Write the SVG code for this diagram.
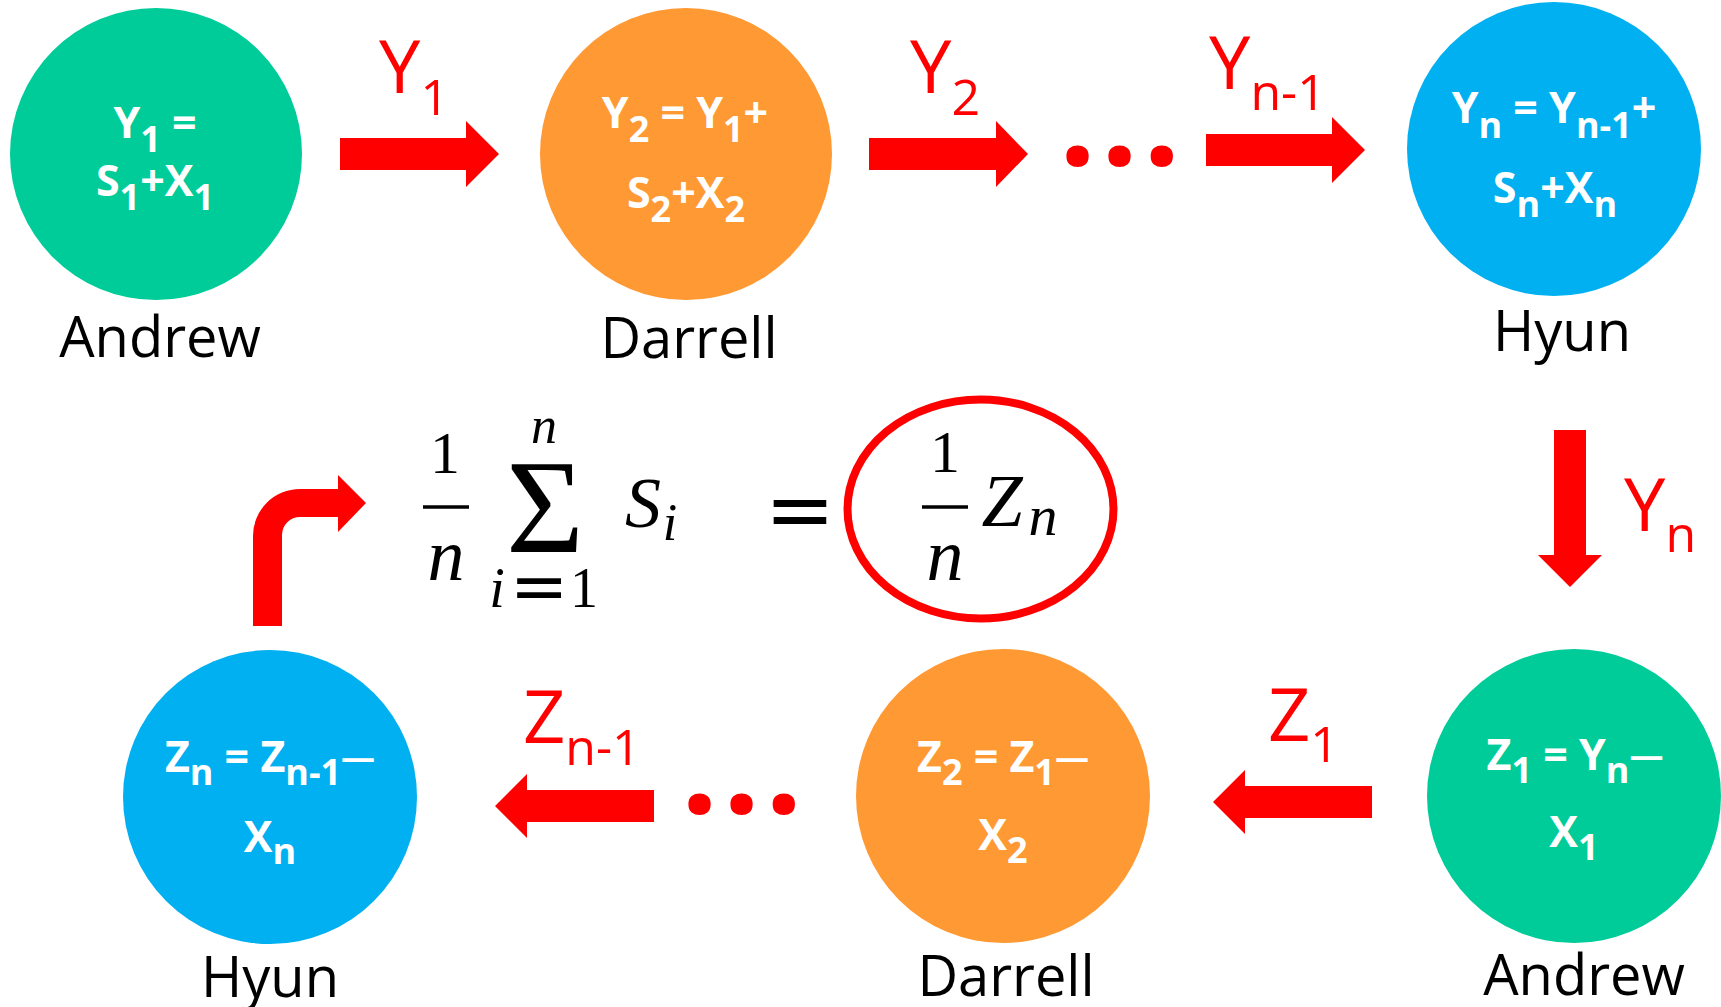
<svg xmlns="http://www.w3.org/2000/svg" width="1721" height="1007" viewBox="0 0 1721 1007">
<style>
.g{fill:#00CC99}.o{fill:#FF9933}.b{fill:#00B0F0}
.nt{font-family:"Open Sans","Liberation Sans",sans-serif;font-weight:bold;font-size:43px;fill:#fff;text-anchor:middle}
.lbl{font-family:"Open Sans","Liberation Sans",sans-serif;font-size:56px;fill:#000;text-anchor:middle}
.el{font-family:"Open Sans","Liberation Sans",sans-serif;font-size:74px;fill:#f00}
.dots{font-family:"Open Sans","Liberation Sans",sans-serif;font-weight:bold;font-size:130px;letter-spacing:5px;fill:#f00}
.arr{fill:#f00}
.m{font-family:"Liberation Serif",serif;fill:#000;text-anchor:middle}
.mi{font-family:"Liberation Serif",serif;font-style:italic;fill:#000;text-anchor:middle}
</style>

<g id="connectors">
  <polygon class="arr" points="340,138 466,138 466,121 499,154 466,187 466,170 340,170"/>
  <polygon class="arr" points="869,138 996,138 996,121 1028,154 996,187 996,170 869,170"/>
  <polygon class="arr" points="1206,134 1332,134 1332,117 1365,150 1332,183 1332,166 1206,166"/>
  <polygon class="arr" points="1554,430 1586,430 1586,555 1602,555 1570,587 1538,555 1554,555"/>
  <polygon class="arr" points="1372,786 1245,786 1245,770 1213,802 1245,834 1245,818 1372,818"/>
  <polygon class="arr" points="654,790 527,790 527,774 495,806 527,838 527,822 654,822"/>
  <path class="arr" d="M253,626 L253,536 A47,47 0 0 1 300,489 L338,489 L338,475 L366,503 L338,532 L338,517 L300,517 A18,18 0 0 0 282,535 L282,626 Z"/>
</g>

<g id="edge-labels">
  <text class="el" x="379" y="93">Y<tspan dy="22" font-size="50">1</tspan></text>
  <text class="el" x="910" y="93">Y<tspan dy="22" font-size="50">2</tspan></text>
  <text class="el" x="1209" y="89">Y<tspan dy="21" font-size="50">n-1</tspan></text>
  <text class="el" x="1624" y="531">Y<tspan dy="21" font-size="50">n</tspan></text>
  <text class="el" x="1268" y="741">Z<tspan dy="21" font-size="50">1</tspan></text>
  <text class="el" x="523" y="743">Z<tspan dy="22" font-size="50">n-1</tspan></text>
  <text class="dots" x="1059" y="165">...</text>
  <text class="dots" x="681" y="813">...</text>
</g>

<g id="andrew-top">
  <circle class="g" cx="156" cy="154" r="146"/>
  <text class="nt" x="155" y="138">Y<tspan dy="14" font-size="36">1</tspan><tspan dy="-14"> =</tspan></text>
  <text class="nt" x="155" y="196">S<tspan dy="14" font-size="36">1</tspan><tspan dy="-14">+X</tspan><tspan dy="14" font-size="36">1</tspan></text>
  <text class="lbl" x="160" y="357">Andrew</text>
</g>

<g id="darrell-top">
  <circle class="o" cx="686" cy="154" r="146"/>
  <text class="nt" x="685" y="128">Y<tspan dy="14" font-size="36">2</tspan><tspan dy="-14"> = Y</tspan><tspan dy="14" font-size="36">1</tspan><tspan dy="-14">+</tspan></text>
  <text class="nt" x="686" y="208">S<tspan dy="14" font-size="36">2</tspan><tspan dy="-14">+X</tspan><tspan dy="14" font-size="36">2</tspan></text>
  <text class="lbl" x="689" y="358">Darrell</text>
</g>

<g id="hyun-top">
  <circle class="b" cx="1554" cy="149" r="147"/>
  <text class="nt" x="1554" y="123">Y<tspan dy="15" font-size="36">n</tspan><tspan dy="-15"> = Y</tspan><tspan dy="15" font-size="36">n-1</tspan><tspan dy="-15">+</tspan></text>
  <text class="nt" x="1555" y="203">S<tspan dy="14" font-size="36">n</tspan><tspan dy="-14">+X</tspan><tspan dy="14" font-size="36">n</tspan></text>
  <text class="lbl" x="1562" y="351">Hyun</text>
</g>

<g id="andrew-bottom">
  <circle class="g" cx="1574" cy="796" r="147"/>
  <text class="nt" x="1575" y="770">Z<tspan dy="13" font-size="36">1</tspan><tspan dy="-13"> = Y</tspan><tspan dy="13" font-size="36">n</tspan><tspan dy="-16" font-size="34">—</tspan></text>
  <text class="nt" x="1574" y="847">X<tspan dy="13" font-size="36">1</tspan></text>
  <text class="lbl" x="1584" y="995">Andrew</text>
</g>

<g id="darrell-bottom">
  <circle class="o" cx="1003" cy="796" r="147"/>
  <text class="nt" x="1003" y="772">Z<tspan dy="13" font-size="36">2</tspan><tspan dy="-13"> = Z</tspan><tspan dy="13" font-size="36">1</tspan><tspan dy="-16" font-size="34">—</tspan></text>
  <text class="nt" x="1003" y="850">X<tspan dy="13" font-size="36">2</tspan></text>
  <text class="lbl" x="1006" y="996">Darrell</text>
</g>

<g id="hyun-bottom">
  <circle class="b" cx="270" cy="797" r="147"/>
  <text class="nt" x="270" y="772">Z<tspan dy="13" font-size="36">n</tspan><tspan dy="-13"> = Z</tspan><tspan dy="13" font-size="36">n-1</tspan><tspan dy="-16" font-size="34">—</tspan></text>
  <text class="nt" x="270" y="852">X<tspan dy="12" font-size="36">n</tspan></text>
  <text class="lbl" x="270" y="997">Hyun</text>
</g>

<g id="formula">
  <text class="m" x="445" y="473" font-size="60">1</text>
  <line x1="423" y1="507" x2="469" y2="507" stroke="#000" stroke-width="3.5"/>
  <text class="mi" x="446" y="580" font-size="74">n</text>
  <text class="m" x="545" y="552" font-size="134">Σ</text>
  <text class="mi" x="544" y="443" font-size="52">n</text>
  <text class="mi" x="497" y="607" font-size="56">i</text>
  <text x="539" y="610" font-family="DejaVu Sans, sans-serif" font-size="70" text-anchor="middle">=</text>
  <text class="m" x="584" y="607" font-size="56">1</text>
  <text class="mi" x="643" y="527" font-size="72">S</text>
  <text class="mi" x="670" y="540" font-size="52">i</text>
  <text x="800" y="538" font-family="DejaVu Sans, sans-serif" font-size="84" text-anchor="middle">=</text>
</g>

<g id="result">
  <ellipse cx="980.5" cy="509" rx="133" ry="109.5" fill="none" stroke="#f00" stroke-width="8"/>
  <text class="m" x="945" y="472" font-size="60">1</text>
  <line x1="922" y1="507" x2="968" y2="507" stroke="#000" stroke-width="3.5"/>
  <text class="mi" x="945" y="580" font-size="74">n</text>
  <text class="mi" x="1002" y="526" font-size="74">Z</text>
  <text class="mi" x="1043" y="535" font-size="58">n</text>
</g>
</svg>
